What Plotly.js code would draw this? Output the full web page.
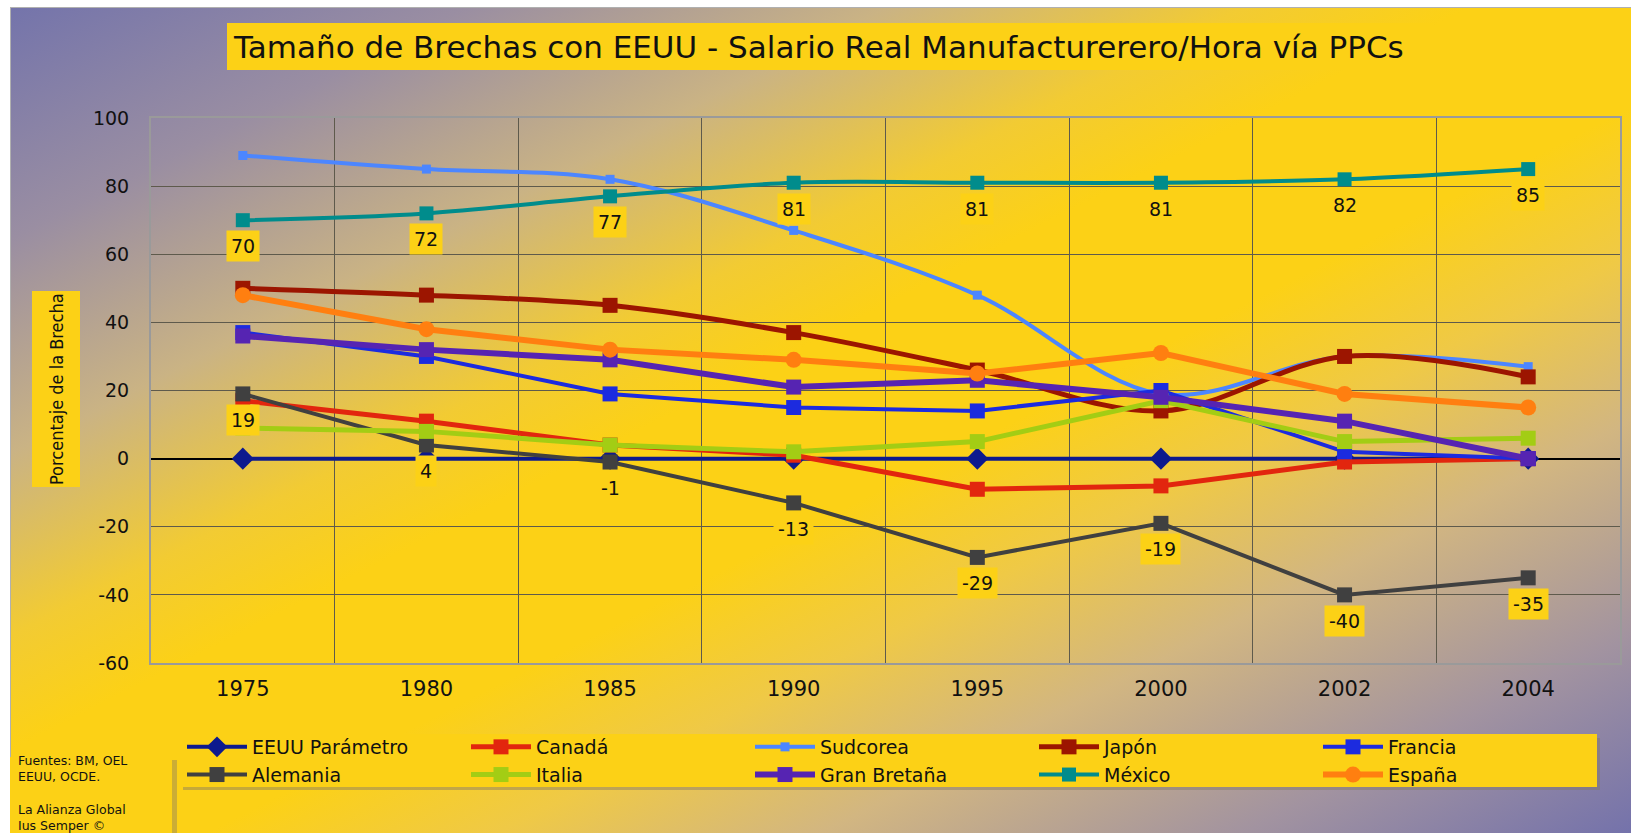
<!DOCTYPE html>
<html>
<head>
<meta charset="utf-8">
<script src="https://cdn.plot.ly/plotly-3.0.1.min.js"></script>
<style>
  html, body { margin: 0; padding: 0; background: #ffffff; }
  #bg {
    position: absolute; left: 10px; top: 7px; width: 1621px; height: 826px;
    border-top: 1px solid #b0b0b0; border-left: 1px solid #b0b0b0; box-sizing: border-box;
    background: linear-gradient(to bottom right,
      #7474ab 0%, #9a8ea2 14%, #cab384 27%, #f2cb33 38%, #fcd116 45%,
      #fcd116 56%, #efc946 65%, #d2b681 75%, #a293a0 88%, #7472ab 100%);
  }
  #chart { position: absolute; left: 0; top: 0; width: 1631px; height: 833px; }
</style>
</head>
<body>
<div id="bg"></div>
<div id="chart"></div>
<script>
// ---- data ----
const years = ['1975', '1980', '1985', '1990', '1995', '2000', '2002', '2004'];
const eeuu        = [0, 0, 0, 0, 0, 0, 0, 0];
const canada      = [17, 11, 4, 1, -9, -8, -1, 0];
const sudcorea    = [89, 85, 82, 67, 48, 19, 30, 27];
const japon       = [50, 48, 45, 37, 26, 14, 30, 24];
const francia     = [37, 30, 19, 15, 14, 20, 2, 0];
const alemania    = [19, 4, -1, -13, -29, -19, -40, -35];
const italia      = [9, 8, 4, 2, 5, 17, 5, 6];
const granBretana = [36, 32, 29, 21, 23, 18, 11, 0];
const mexico      = [70, 72, 77, 81, 81, 81, 82, 85];
const espana      = [48, 38, 32, 29, 25, 31, 19, 15];
const yTickVals   = [-60, -40, -20, 0, 20, 40, 60, 80, 100];
const yTickLabels = ['-60', '-40', '-20', '0', '20', '40', '60', '80', '100'];

// ---- layout geometry ----
const W = 1631, H = 833;
const M = {l: 151, r: 11, t: 118, b: 170};
const PW = W - M.l - M.r, PH = H - M.t - M.b;
const px = v => (v - M.l) / PW;
const py = v => (H - M.b - v) / PH;
const FONT = 'DejaVu Sans, Verdana, sans-serif';
const YELLOW = '#fcd116';

function series(name, y, color, width, symbol, size, shape) {
  return {
    type: 'scatter', mode: 'lines+markers', name: name, x: years, y: y,
    line: {color: color, width: width, shape: shape || 'linear', smoothing: 1},
    marker: {color: color, symbol: symbol, size: size, line: {width: 0}},
    hoverinfo: 'name+y'
  };
}

const traces = [
  series('EEUU Parámetro', eeuu, '#0d1a8e', 4, 'diamond', 17),
  series('Canadá', canada, '#e2260e', 5, 'square', 15),
  series('Sudcorea', sudcorea, '#4c86ff', 4, 'square', 9, 'spline'),
  series('Japón', japon, '#9c1500', 5, 'square', 15, 'spline'),
  series('Francia', francia, '#1c2bdf', 4, 'square', 15),
  series('Alemania', alemania, '#404040', 4, 'square', 15),
  series('Italia', italia, '#a3cd14', 5, 'square', 15),
  series('Gran Bretaña', granBretana, '#5624b2', 6, 'square', 15),
  series('México', mexico, '#008c8c', 4, 'square', 14, 'spline'),
  series('España', espana, '#ff7f10', 6, 'circle', 16)
];

// data labels (México and Alemania), built from the arrays
const labelAnns = [];
[mexico, alemania].forEach(arr => {
  arr.forEach((v, i) => {
    labelAnns.push({
      x: i, y: v, xref: 'x', yref: 'y', text: String(v), showarrow: false,
      xanchor: 'center', yanchor: 'middle',
      yshift: -26, bgcolor: YELLOW, borderpad: 4,
      font: {family: FONT, size: 19, color: '#111111'}
    });
  });
});

const boxes = [
  // title box
  {x0: 227, x1: 1433, y0: 23, y1: 70, fill: YELLOW},
  // y title box
  {x0: 32, x1: 80, y0: 291, y1: 487, fill: YELLOW},
  // legend shadow + legend box
  {x0: 183, x1: 1600, y0: 738, y1: 790, fill: 'rgba(130,120,100,0.45)'},
  {x0: 180, x1: 1597, y0: 734, y1: 787, fill: YELLOW},
  // source shadow + source box
  {x0: 13, x1: 177, y0: 760, y1: 860, fill: 'rgba(130,120,100,0.4)'},
  {x0: 10, x1: 172, y0: 757, y1: 860, fill: YELLOW}
];
const shapes = boxes.map(b => ({
  type: 'rect', xref: 'paper', yref: 'paper', layer: 'below',
  x0: px(b.x0), x1: px(b.x1), y0: py(b.y1), y1: py(b.y0),
  fillcolor: b.fill, line: {width: 0}
}));

const layout = {
  width: W, height: H,
  margin: M,
  paper_bgcolor: 'rgba(0,0,0,0)',
  plot_bgcolor: 'rgba(0,0,0,0)',
  showlegend: true,
  title: {
    text: 'Tamaño de Brechas con EEUU - Salario Real Manufacturerero/Hora vía PPCs',
    xref: 'container', yref: 'container', x: 234 / W, xanchor: 'left',
    y: 1 - 47 / H, yanchor: 'middle',
    font: {family: FONT, size: 31, color: '#111111'}
  },
  xaxis: {
    type: 'category', categoryorder: 'array', categoryarray: years,
    range: [-0.5, 7.5], tickson: 'boundaries', ticks: '',
    showgrid: true, gridcolor: '#5e5a4c', gridwidth: 1,
    showline: true, linecolor: '#9a9a9a', linewidth: 2, mirror: true,
    zeroline: false, ticklabelstandoff: 6,
    tickfont: {family: FONT, size: 21, color: '#111111'}
  },
  yaxis: {
    range: [-60, 100], tickvals: yTickVals, ticktext: yTickLabels, ticks: '',
    showgrid: true, gridcolor: '#5e5a4c', gridwidth: 1,
    showline: true, linecolor: '#9a9a9a', linewidth: 2, mirror: true,
    zeroline: true, zerolinecolor: '#000000', zerolinewidth: 1.5,
    ticklabelstandoff: 16,
    tickfont: {family: FONT, size: 19, color: '#111111'}
  },
  legend: {
    orientation: 'h', xref: 'paper', yref: 'paper',
    x: px(182), xanchor: 'left', y: py(728), yanchor: 'top',
    bgcolor: 'rgba(0,0,0,0)', borderwidth: 0,
    itemwidth: 60, entrywidth: 209, entrywidthmode: 'pixels',
    tracegroupgap: 0, traceorder: 'normal',
    font: {family: FONT, size: 19, color: '#111111'}
  },
  shapes: shapes,
  annotations: labelAnns.concat([
    {
      text: 'Porcentaje de la Brecha', textangle: -90, showarrow: false,
      xref: 'paper', yref: 'paper', x: px(56), y: py(389),
      xanchor: 'center', yanchor: 'middle',
      font: {family: 'DejaVu Sans Condensed, Liberation Sans Narrow, DejaVu Sans, sans-serif', size: 18, color: '#111111'}
    },
    {
      text: 'Fuentes: BM, OEL<br>EEUU, OCDE.<br><br>La Alianza Global<br>Ius Semper ©',
      showarrow: false, align: 'left',
      xref: 'paper', yref: 'paper', x: px(17), y: py(752),
      xanchor: 'left', yanchor: 'top', borderpad: 0,
      font: {family: FONT, size: 12.5, color: '#111111'}
    }
  ])
};

Plotly.newPlot('chart', traces, layout, {displayModeBar: false, responsive: false});
</script>
</body>
</html>
